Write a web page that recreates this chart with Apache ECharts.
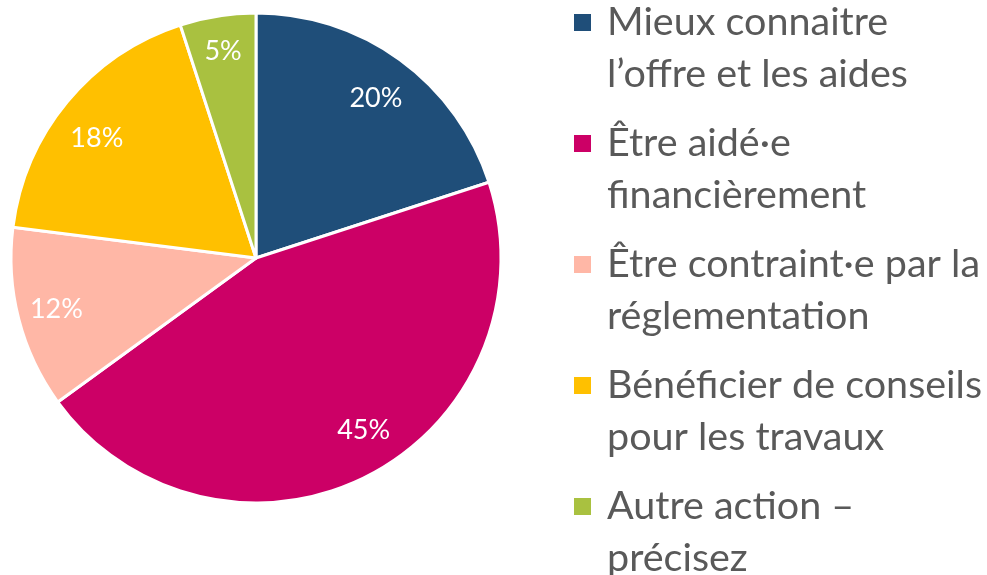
<!DOCTYPE html>
<html><head><meta charset="utf-8">
<script src="https://cdn.jsdelivr.net/npm/echarts@6/dist/echarts.min.js"></script>
<style>html,body{margin:0;padding:0;background:#fff}#c{width:987px;height:575px}</style>
</head><body><div id="c"></div>
<script>
const categories = ["Mieux connaitre\nl\u2019offre et les aides", "\u00CAtre aid\u00E9\u00B7e\nfinanci\u00E8rement", "\u00CAtre contraint\u00B7e par la\nr\u00E9glementation", "B\u00E9n\u00E9ficier de conseils\npour les travaux", "Autre action \u2013\npr\u00E9cisez"];
const values = [20, 45, 12, 18, 5];
const colors = ["#1F4E79", "#CC0066", "#FFB7A6", "#FFC000", "#A9C140"];
const labelNudges = [[0, 5], [15, -9], [-2, 1], [-2, 10], [-1, -5]];

const FONT = "Lato";
const LH = 52;
const data = categories.map((n, i) => ({ name: n, value: values[i], itemStyle: { color: colors[i] } }));
const chart = echarts.init(document.getElementById('c'), null, { renderer: 'canvas' });
chart.setOption({
  animation: false,
  backgroundColor: '#fff',
  legend: {
    orient: 'vertical',
    left: 572, top: 22.5 - LH * 1.5,
    height: 2000,
    padding: 0,
    itemGap: 121 - LH * 3,
    itemWidth: 19, itemHeight: 19,
    icon: 'rect',
    selectedMode: false,
    data: categories,
    formatter: name => ' \n' + name,
    textStyle: { fontFamily: FONT, fontSize: 39.5, color: '#595959', lineHeight: LH, padding: [0, 0, 0, 10] }
  },
  series: [
    {
      type: 'pie', center: [256, 258], radius: [0, 245],
      startAngle: 90, clockwise: true, silent: true,
      itemStyle: { borderColor: '#fff', borderWidth: 3 },
      label: { show: false }, labelLine: { show: false },
      data: data
    },
    {
      type: 'pie', center: [256, 258], radius: [157, 245],
      startAngle: 90, clockwise: true, silent: true,
      itemStyle: { color: 'rgba(0,0,0,0)', borderWidth: 0 },
      label: { show: true, position: 'inside', formatter: p => p.value + '%', color: '#fff', fontFamily: FONT, fontSize: 27 },
      labelLine: { show: false },
      data: categories.map((n, i) => ({ name: n, value: values[i], itemStyle: { color: 'rgba(0,0,0,0)' }, label: { offset: labelNudges[i] } }))
    }
  ]
});
</script></body></html>
